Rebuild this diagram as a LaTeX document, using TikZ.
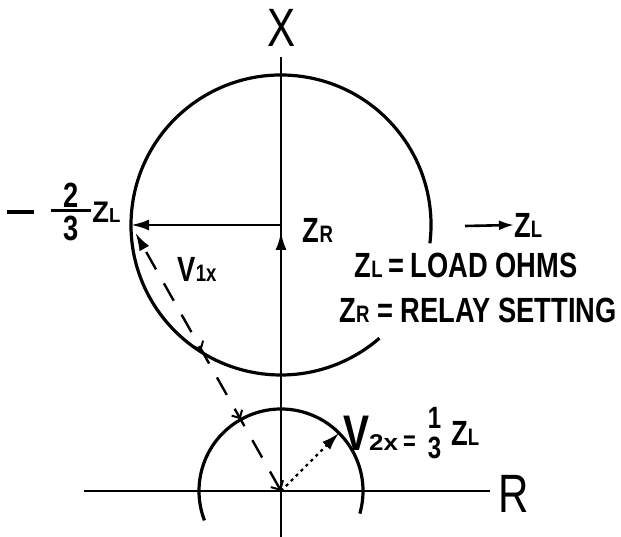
\documentclass[tikz,border=0pt]{standalone}
\usepackage{fontspec}
\usepackage{graphicx}
\setmainfont{Liberation Sans}[FakeStretch=0.78]
\usetikzlibrary{arrows.meta,decorations.markings}
\newcommand{\myfr}[2]{\ensuremath{\vcenter{\hbox{\shortstack{#1\\[-1pt]\rule{1.15em}{2.5pt}\\[2pt]#2}}}}}
\newcommand{\vc}[1]{\ensuremath{\vcenter{\hbox{#1}}}}
\newcommand{\lo}[1]{\scalebox{0.68}{#1}}
\begin{document}
\begin{tikzpicture}[x=1pt,y=1pt,
  ln/.style={line width=2.6pt},
  circ/.style={line width=3.2pt},
  tip/.style={-{Latex[length=18pt,width=11pt]}},
  lbl/.style={inner sep=0pt, font=\fontsize{35}{38}\selectfont\bfseries},
  big/.style={inner sep=0pt, font=\fontsize{54}{58}\selectfont},
  barb/.style={decoration={markings,
     mark=at position 0.27 with {\arrowreversed{Straight Barb[length=6pt,width=12pt,line width=2pt]}},
     mark=at position 0.53 with {\arrowreversed{Straight Barb[length=6pt,width=12pt,line width=2pt]}}},
     postaction=decorate}
]
\useasboundingbox (0,0) rectangle (621,537);
% key points
\coordinate (O) at (281,46);
\coordinate (C) at (281,312);
\coordinate (Lp) at (131,312);
\coordinate (Vt) at (339,104);
\coordinate (Xt) at (281,480);
\coordinate (Xb) at (281,0);
\coordinate (Rl) at (84,46);
\coordinate (Rr) at (490,46);
\coordinate (Za) at (465,311);
% axes
\draw[ln] (Xb) -- (Xt);
\draw[ln] (Rl) -- (Rr);
\node[big] (X) at (282,509) {X};
\node[big] (R) at (514,43) {R};
% circles
\draw[circ] (C) ++(-7:150) arc[start angle=-7, end angle=311, radius=150];
\draw[circ] (O) ++(-16:82) arc[start angle=-16, end angle=201, radius=82];
% vectors
\draw[ln, tip, shorten >=7pt] (O) -- (C);
\draw[ln, tip] (C) -- (Lp);
\draw[line width=2.4pt, dash pattern=on 20pt off 16pt, barb,
      {Straight Barb[length=7pt,width=14pt,line width=2pt]}-{Latex[length=18pt,width=11pt]},
      shorten >=9pt] (O) -- (Lp);
\draw[line width=2.2pt, dash pattern=on 3pt off 4pt, tip] (O) -- (Vt);
% labels
\node[lbl, anchor=west] (mZL) at (7,325)
  {\vc{\rule{27pt}{3.5pt}}\hspace{17pt}\myfr{2}{3}\hspace{1pt}\vc{\scalebox{1}[0.85]{Z\lo{L}}}};
\node[lbl] (ZRl) at (318,307) {Z\lo{R}};
\node[lbl] (V1) at (197,268) {V\lo{1x}};
\node[lbl, anchor=west] (ZLr) at (514,312) {Z\lo{L}};
\draw[ln, -{Latex[length=15pt,width=10pt]}] (Za) -- (ZLr.west);
\node[lbl] (leg1) at (466,272) {Z\lo{L}\,=\,LOAD OHMS};
\node[lbl] (leg2) at (478,227) {Z\lo{R} = RELAY SETTING};
\node[lbl, anchor=west] (V2) at (343,104)
  {\vc{{\fontsize{50}{50}\selectfont V}\scalebox{0.95}[0.65]{2x}\hspace{5pt}\scalebox{0.8}{=}\hspace{12pt}}\vc{\scalebox{0.88}{\shortstack{1\\[7pt]3}}}\hspace{10pt}\vc{Z\lo{L}}};
\end{tikzpicture}
\end{document}
